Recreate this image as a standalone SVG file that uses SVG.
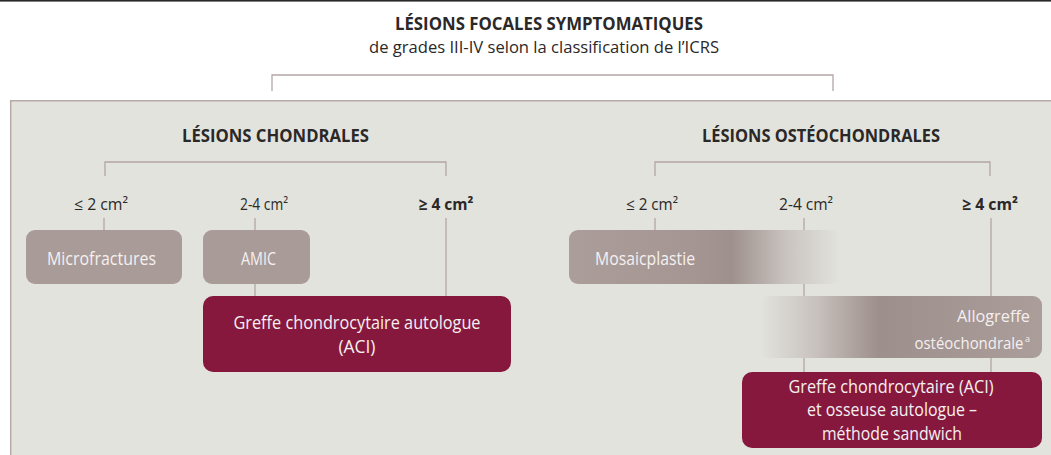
<svg xmlns="http://www.w3.org/2000/svg" width="1051" height="455" viewBox="0 0 1051 455">
  <style>
    .t { font-family: "Open Sans", "Noto Sans", sans-serif; fill: #2b2828; }
    .h { font-weight: bold; font-size: 18.5px; }
    .lbl { font-size: 16px; }
    .lblb { font-size: 16.5px; font-weight: bold; }
    .w { font-family: "Open Sans", "Noto Sans", sans-serif; fill: #f5f0f0; font-size: 18.5px; }
    .ws { font-size: 17px; }
    .sup { font-size: 9px; }
    .ln { stroke: #b3a6a5; stroke-width: 1.3; fill: none; }
    .grey { fill: #a99b98; }
    .red { fill: #86183e; }
  </style>
  <defs>
    <linearGradient id="gMosaic" gradientUnits="userSpaceOnUse" x1="569" y1="0" x2="840" y2="0">
      <stop offset="0" stop-color="#ab9d9a"/>
      <stop offset="0.45" stop-color="#a59693"/>
      <stop offset="0.6" stop-color="#9e908d"/>
      <stop offset="0.8" stop-color="#c9c3bf"/>
      <stop offset="1" stop-color="#e2e3dd"/>
    </linearGradient>
    <linearGradient id="gAllo" gradientUnits="userSpaceOnUse" x1="760" y1="0" x2="1042" y2="0">
      <stop offset="0" stop-color="#e2e3dd"/>
      <stop offset="0.2" stop-color="#c8c1bd"/>
      <stop offset="0.42" stop-color="#9d8f8c"/>
      <stop offset="1" stop-color="#ab9d9a"/>
    </linearGradient>
  </defs>

  <rect x="0" y="0" width="1051" height="455" fill="#ffffff"/>
  <rect x="0" y="0" width="1051" height="1.6" fill="#2a2a2a"/>

  <g id="panel">
    <rect x="10" y="100" width="1050" height="370" fill="#e2e3dd"/>
    <path d="M10.7 455 V100.7 H1051" stroke="#b8aaa9" stroke-width="1.5" fill="none"/>
  </g>

  <g id="header">
    <text class="t h" x="549" y="30" text-anchor="middle" textLength="308" lengthAdjust="spacingAndGlyphs">LÉSIONS FOCALES SYMPTOMATIQUES</text>
    <text class="t" x="544" y="53" font-size="17" text-anchor="middle" textLength="350" lengthAdjust="spacingAndGlyphs">de grades III-IV selon la classification de l’ICRS</text>
  </g>

  <g id="connectors">
    <path class="ln" d="M272 91 V75 H833 V91"/>
    <path class="ln" d="M105 176 V162 H446 V176"/>
    <path class="ln" d="M655 176 V162 H990 V176"/>
    <path class="ln" d="M104 218 V230"/>
    <path class="ln" d="M255 218 V296"/>
    <path class="ln" d="M446 218 V296"/>
    <path class="ln" d="M655 218 V230"/>
    <path class="ln" d="M804 218 V372"/>
    <path class="ln" d="M991 218 V372"/>
  </g>

  <g id="chondral-title">
    <text class="t h" x="275.5" y="141.5" text-anchor="middle" textLength="187" lengthAdjust="spacingAndGlyphs">LÉSIONS CHONDRALES</text>
  </g>
  <g id="osteo-title">
    <text class="t h" x="821" y="141.5" text-anchor="middle" textLength="238" lengthAdjust="spacingAndGlyphs">LÉSIONS OSTÉOCHONDRALES</text>
  </g>

  <g id="size-labels">
    <text class="t lbl" x="101" y="210" text-anchor="middle" textLength="54" lengthAdjust="spacingAndGlyphs">≤ 2 cm²</text>
    <text class="t lbl" x="264" y="210" text-anchor="middle" textLength="48" lengthAdjust="spacingAndGlyphs">2-4 cm²</text>
    <text class="t lblb" x="446" y="210" text-anchor="middle" textLength="55" lengthAdjust="spacingAndGlyphs">≥ 4 cm²</text>
    <text class="t lbl" x="652" y="210" text-anchor="middle" textLength="52" lengthAdjust="spacingAndGlyphs">≤ 2 cm²</text>
    <text class="t lbl" x="806" y="210" text-anchor="middle" textLength="54" lengthAdjust="spacingAndGlyphs">2-4 cm²</text>
    <text class="t lblb" x="990" y="210" text-anchor="middle" textLength="56" lengthAdjust="spacingAndGlyphs">≥ 4 cm²</text>
  </g>

  <g id="microfractures">
    <rect class="grey" x="26" y="230" width="156" height="54" rx="9"/>
    <text class="w" x="101.5" y="265" text-anchor="middle" textLength="109" lengthAdjust="spacingAndGlyphs">Microfractures</text>
  </g>

  <g id="amic">
    <rect class="grey" x="203" y="230" width="107" height="54" rx="9"/>
    <text class="w" x="258.5" y="265" text-anchor="middle" textLength="35" lengthAdjust="spacingAndGlyphs">AMIC</text>
  </g>

  <g id="aci">
    <rect class="red" x="203" y="296" width="308" height="76" rx="10"/>
    <text class="w" x="357" y="329" text-anchor="middle" textLength="247" lengthAdjust="spacingAndGlyphs">Greffe chondrocytaire autologue</text>
    <text class="w" x="357" y="353" text-anchor="middle" textLength="37" lengthAdjust="spacingAndGlyphs">(ACI)</text>
  </g>

  <g id="mosaicplastie">
    <rect x="569" y="230" width="271" height="54" rx="9" fill="url(#gMosaic)"/>
    <text class="w" x="595" y="265" textLength="100" lengthAdjust="spacingAndGlyphs">Mosaicplastie</text>
  </g>

  <g id="allogreffe">
    <rect x="760" y="296" width="282" height="62" rx="9" fill="url(#gAllo)"/>
    <text class="w ws" x="1030" y="322" text-anchor="end" textLength="73" lengthAdjust="spacingAndGlyphs">Allogreffe</text>
    <text class="w ws" x="1023.5" y="349" text-anchor="end" textLength="109" lengthAdjust="spacingAndGlyphs">ostéochondrale</text>
    <text class="w sup" x="1025" y="342">a</text>
  </g>

  <g id="sandwich">
    <rect class="red" x="742" y="372" width="300" height="76" rx="10"/>
    <text class="w" x="891" y="393" text-anchor="middle" textLength="205" lengthAdjust="spacingAndGlyphs">Greffe chondrocytaire (ACI)</text>
    <text class="w" x="892" y="416" text-anchor="middle" textLength="170" lengthAdjust="spacingAndGlyphs">et osseuse autologue –</text>
    <text class="w" x="892" y="440" text-anchor="middle" textLength="140" lengthAdjust="spacingAndGlyphs">méthode sandwich</text>
  </g>
</svg>
